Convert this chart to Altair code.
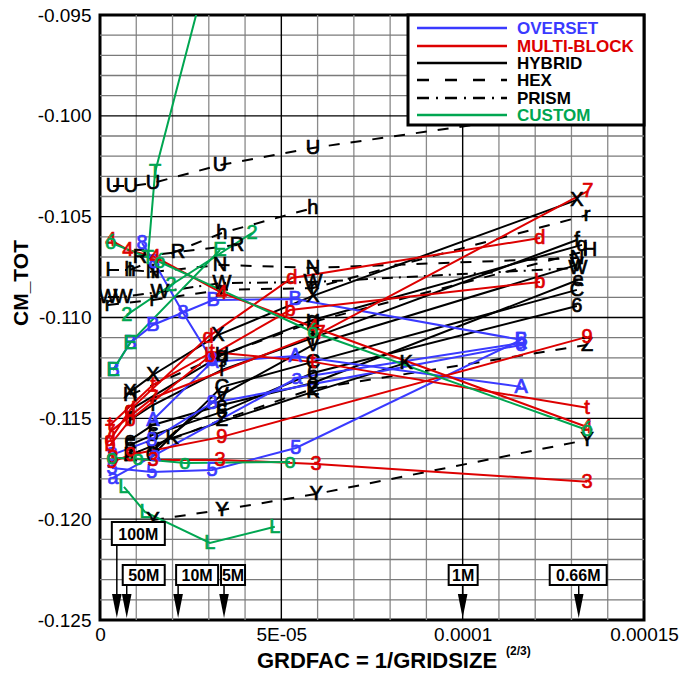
import altair as alt
import pandas as pd

# ---------------- data: GRDFAC (x) vs CM_TOT (y) ----------------
# OVERSET (blue)
ov_B_x = [0.36e-5, 0.83e-5, 1.46e-5, 3.12e-5, 5.38e-5, 11.61e-5]
ov_B_y = [-0.11260, -0.11126, -0.11037, -0.10913, -0.10908, -0.11111]
ov_8_x = [1.16e-5, 1.49e-5, 2.29e-5, 3.09e-5]
ov_8_y = [-0.10630, -0.10725, -0.10977, -0.11210]
ov_A_x = [1.46e-5, 3.09e-5, 5.38e-5, 11.61e-5]
ov_A_y = [-0.11508, -0.11220, -0.11191, -0.11344]
ov_5_x = [0.33e-5, 1.43e-5, 3.09e-5, 5.40e-5, 11.61e-5]
ov_5_y = [-0.11746, -0.11766, -0.11756, -0.11647, -0.11111]
ov_a_x = [0.36e-5, 1.52e-5, 5.43e-5, 11.61e-5]
ov_a_y = [-0.11795, -0.11681, -0.11300, -0.11126]
ov_s_x = [0.33e-5, 1.43e-5, 3.09e-5, 11.61e-5]
ov_s_y = [-0.11681, -0.11607, -0.11424, -0.11136]

# MULTI-BLOCK (red)
mb_7_x = [0.28e-5, 1.46e-5, 6.07e-5, 13.45e-5]
mb_7_y = [-0.11567, -0.11399, -0.11077, -0.10373]
mb_d_x = [0.28e-5, 0.83e-5, 2.98e-5, 5.29e-5, 12.13e-5]
mb_d_y = [-0.11607, -0.11458, -0.11096, -0.10804, -0.10606]
mb_b_x = [0.28e-5, 0.83e-5, 3.03e-5, 5.24e-5, 12.13e-5]
mb_b_y = [-0.11632, -0.11508, -0.11191, -0.10963, -0.10824]
mb_9_x = [0.33e-5, 0.85e-5, 3.36e-5, 13.43e-5]
mb_9_y = [-0.11716, -0.11681, -0.11592, -0.11096]
mb_t_x = [0.28e-5, 1.46e-5, 3.09e-5, 5.87e-5, 13.43e-5]
mb_t_y = [-0.11533, -0.11334, -0.11171, -0.11220, -0.11448]
mb_4_x = [0.30e-5, 0.77e-5, 1.52e-5, 3.36e-5, 5.87e-5, 13.43e-5]
mb_4_y = [-0.10616, -0.10665, -0.10700, -0.10878, -0.11047, -0.11543]
mb_3_x = [0.36e-5, 1.46e-5, 3.31e-5, 5.96e-5, 13.43e-5]
mb_3_y = [-0.11696, -0.11706, -0.11706, -0.11726, -0.11815]

# HYBRID (black solid)
hy_X_x = [0.83e-5, 1.46e-5, 3.25e-5, 5.87e-5, 13.15e-5]
hy_X_y = [-0.11369, -0.11285, -0.11087, -0.10893, -0.10417]
hy_f_x = [0.83e-5, 1.46e-5, 3.36e-5, 5.87e-5, 13.15e-5]
hy_f_y = [-0.11508, -0.11434, -0.11260, -0.11101, -0.10616]
hy_e_x = [0.83e-5, 1.46e-5, 3.36e-5, 5.87e-5, 13.18e-5]
hy_e_y = [-0.11607, -0.11533, -0.11434, -0.11325, -0.10814]
hy_6_x = [0.83e-5, 1.46e-5, 3.36e-5, 5.87e-5, 13.15e-5]
hy_6_y = [-0.11632, -0.11582, -0.11468, -0.11275, -0.10943]
hy_q_x = [0.83e-5, 3.36e-5, 5.87e-5, 13.29e-5]
hy_q_y = [-0.11458, -0.11186, -0.11012, -0.10640]
hy_K_x = [0.83e-5, 1.99e-5, 5.87e-5, 8.44e-5]
hy_K_y = [-0.11681, -0.11597, -0.11369, -0.11225]
hy_V_x = [1.46e-5, 3.36e-5, 5.87e-5, 13.15e-5]
hy_V_y = [-0.11657, -0.11384, -0.11136, -0.10739]
hy_C_x = [1.46e-5, 3.36e-5, 5.87e-5, 13.15e-5]
hy_C_y = [-0.11681, -0.11344, -0.11220, -0.10863]

# HEX (black dashed)
hx_U_x = [0.36e-5, 0.85e-5, 1.46e-5, 3.31e-5, 5.87e-5, 11.61e-5]
hx_U_y = [-0.10348, -0.10348, -0.10333, -0.10244, -0.10159, -0.10011]
hx_h_x = [0.83e-5, 3.36e-5, 5.87e-5]
hx_h_y = [-0.10764, -0.10581, -0.10457]
hx_r_x = [0.22e-5, 1.46e-5, 3.36e-5, 5.87e-5, 13.43e-5]
hx_r_y = [-0.10938, -0.10913, -0.10863, -0.10854, -0.10492]
hx_N_x = [1.46e-5, 3.31e-5, 5.87e-5, 13.15e-5]
hx_N_y = [-0.10774, -0.10739, -0.10754, -0.10705]
hx_Y_x = [1.46e-5, 3.36e-5, 5.96e-5, 13.43e-5]
hx_Y_y = [-0.12004, -0.11954, -0.11875, -0.11607]
hx_Z_x = [0.83e-5, 3.36e-5, 5.87e-5, 13.43e-5]
hx_Z_y = [-0.11681, -0.11508, -0.11354, -0.11136]
hx_H_x = [0.83e-5, 3.36e-5, 5.87e-5, 13.51e-5]
hx_H_y = [-0.11384, -0.11186, -0.11022, -0.10665]
hx_R_x = [1.10e-5, 2.15e-5, 3.78e-5]
hx_R_y = [-0.10700, -0.10675, -0.10640]

# PRISM (black dash-dot)
pr_W_x = [0.22e-5, 0.63e-5, 1.65e-5, 3.36e-5, 5.87e-5, 13.18e-5]
pr_W_y = [-0.10898, -0.10898, -0.10873, -0.10829, -0.10824, -0.10754]
pr_I_x = [0.22e-5, 0.83e-5, 1.46e-5]
pr_I_y = [-0.10764, -0.10764, -0.10774]

# CUSTOM (green)
cu_T_x = [1.32e-5, 1.52e-5, 3.01e-5]
cu_T_y = [-0.10705, -0.10278, -0.09252]
cu_2_x = [0.74e-5, 1.96e-5, 4.19e-5]
cu_2_y = [-0.10987, -0.10839, -0.10581]
cu_E_x = [0.36e-5, 0.83e-5, 3.31e-5]
cu_E_y = [-0.11260, -0.11126, -0.10665]
cu_o1_x = [0.30e-5, 1.65e-5, 5.87e-5, 13.43e-5]
cu_o1_y = [-0.10630, -0.10725, -0.11072, -0.11558]
cu_o_x = [0.33e-5, 1.05e-5, 2.34e-5, 5.24e-5]
cu_o_y = [-0.11696, -0.11701, -0.11721, -0.11716]
cu_L_x = [0.66e-5, 1.24e-5, 3.03e-5, 4.82e-5]
cu_L_y = [-0.11840, -0.11964, -0.12118, -0.12038]

SERIES = [
    ("OVERSET", "B", ov_B_x, ov_B_y), ("OVERSET", "8", ov_8_x, ov_8_y),
    ("OVERSET", "A", ov_A_x, ov_A_y), ("OVERSET", "5", ov_5_x, ov_5_y),
    ("OVERSET", "a", ov_a_x, ov_a_y), ("OVERSET", "8", ov_s_x, ov_s_y),
    ("MULTI-BLOCK", "7", mb_7_x, mb_7_y), ("MULTI-BLOCK", "d", mb_d_x, mb_d_y),
    ("MULTI-BLOCK", "b", mb_b_x, mb_b_y), ("MULTI-BLOCK", "9", mb_9_x, mb_9_y),
    ("MULTI-BLOCK", "t", mb_t_x, mb_t_y), ("MULTI-BLOCK", "4", mb_4_x, mb_4_y),
    ("MULTI-BLOCK", "3", mb_3_x, mb_3_y),
    ("HYBRID", "X", hy_X_x, hy_X_y), ("HYBRID", "f", hy_f_x, hy_f_y),
    ("HYBRID", "e", hy_e_x, hy_e_y), ("HYBRID", "6", hy_6_x, hy_6_y),
    ("HYBRID", "q", hy_q_x, hy_q_y), ("HYBRID", "K", hy_K_x, hy_K_y),
    ("HYBRID", "V", hy_V_x, hy_V_y), ("HYBRID", "C", hy_C_x, hy_C_y),
    ("HEX", "U", hx_U_x, hx_U_y), ("HEX", "h", hx_h_x, hx_h_y),
    ("HEX", "r", hx_r_x, hx_r_y), ("HEX", "N", hx_N_x, hx_N_y),
    ("HEX", "Y", hx_Y_x, hx_Y_y), ("HEX", "Z", hx_Z_x, hx_Z_y),
    ("HEX", "H", hx_H_x, hx_H_y), ("HEX", "R", hx_R_x, hx_R_y),
    ("PRISM", "W", pr_W_x, pr_W_y), ("PRISM", "I", pr_I_x, pr_I_y),
    ("CUSTOM", "T", cu_T_x, cu_T_y), ("CUSTOM", "2", cu_2_x, cu_2_y),
    ("CUSTOM", "E", cu_E_x, cu_E_y), ("CUSTOM", "ó", cu_o1_x, cu_o1_y),
    ("CUSTOM", "o", cu_o_x, cu_o_y), ("CUSTOM", "L", cu_L_x, cu_L_y),
]

# grid-size annotations
grid_labels = ["100M", "50M", "10M", "5M", "1M", "0.66M"]
grid_x = [0.464e-5, 0.737e-5, 2.154e-5, 3.42e-5, 10.0e-5, 13.2e-5]

# axis ticks / grid
x_ticks = [0, 5e-5, 10e-5, 15e-5]
y_ticks = [-0.125, -0.120, -0.115, -0.110, -0.105, -0.100, -0.095]
x_minor = [1e-5, 2e-5, 3e-5, 4e-5, 6e-5, 7e-5, 8e-5, 9e-5, 11e-5, 12e-5, 13e-5, 14e-5]
x_major = [5e-5, 10e-5]
y_minor = [-0.124, -0.123, -0.122, -0.121, -0.119, -0.118, -0.117, -0.116,
           -0.114, -0.113, -0.112, -0.111, -0.109, -0.108, -0.107, -0.106,
           -0.104, -0.103, -0.102, -0.101, -0.099, -0.098, -0.097, -0.096]
y_major = [-0.120, -0.115, -0.110, -0.105, -0.100]

# ---------------- build tables ----------------
rows = []
for sid, (grp, mk, xs_, ys_) in enumerate(SERIES):
    for i, (xv, yv) in enumerate(zip(xs_, ys_)):
        rows.append({"series": f"{grp}-{mk}-{sid}", "group": grp, "marker": mk,
                     "idx": i, "x": xv, "y": yv})
df = pd.DataFrame(rows)

STYLE = {
    "OVERSET": ("#3a3aff", None),
    "MULTI-BLOCK": ("#dd0000", None),
    "HYBRID": ("#000000", None),
    "HEX": ("#000000", [11, 11]),
    "PRISM": ("#000000", [11, 6, 2, 6]),
    "CUSTOM": ("#00a651", None),
}
FONT = "Liberation Sans"
W, H = 544, 605
xsc = alt.Scale(domain=[0, 0.00015], nice=False, zero=False)
ysc = alt.Scale(domain=[-0.125, -0.095], nice=False, zero=False)

x_axis = alt.Axis(values=x_ticks, title=None, domain=False, ticks=False, grid=False,
                  labelFont=FONT, labelFontSize=19, labelColor="black", labelPadding=5,
                  labelFlush=False, labelOverlap=False,
                  labelExpr="datum.value == 0 ? '0' : (datum.value < 0.00006 ? '5E-05' : (datum.value < 0.00011 ? '0.0001' : '0.00015'))")
y_axis = alt.Axis(values=y_ticks, title=None, domain=False, ticks=False, grid=False,
                  labelFont=FONT, labelFontSize=19, labelColor="black", labelPadding=9,
                  labelExpr="'-' + format(abs(datum.value), '.3f')")


def X():
    return alt.X("x:Q", scale=xsc, axis=x_axis, title=None)


def Y():
    return alt.Y("y:Q", scale=ysc, axis=y_axis, title=None)


layers = []
# grid
layers.append(alt.Chart(pd.DataFrame({"x": x_minor}))
              .mark_rule(color="#8a8a8a", strokeWidth=1.3).encode(x=X()))
layers.append(alt.Chart(pd.DataFrame({"y": y_minor})).mark_rule(color="#7a7a7a", strokeWidth=1.3)
              .encode(y=Y()))
layers.append(alt.Chart(pd.DataFrame({"x": x_major})).mark_rule(color="#000000", strokeWidth=1.4)
              .encode(x=X()))
layers.append(alt.Chart(pd.DataFrame({"y": y_major})).mark_rule(color="#000000", strokeWidth=1.4)
              .encode(y=Y()))

# lines
order = ["HEX", "PRISM", "HYBRID", "OVERSET", "MULTI-BLOCK", "CUSTOM"]
for grp in order:
    color, dash = STYLE[grp]
    kw = dict(color=color, strokeWidth=2, clip=True)
    if dash:
        kw["strokeDash"] = dash
    layers.append(alt.Chart(df[df.group == grp]).mark_line(**kw)
                  .encode(x=X(), y=Y(), detail="series:N", order="idx:Q"))

# letter symbols (only those inside the plotted range)
for grp in order:
    color, _ = STYLE[grp]
    layers.append(alt.Chart(df[df.group == grp]).transform_filter("datum.y <= -0.095").mark_text(
        color=color, fill=color, stroke=color, strokeWidth=0.7, font=FONT, fontSize=20,
        clip=True, baseline="middle", align="center")
        .encode(x=X(), y=Y(), text="marker:N"))

# legend box
one = pd.DataFrame({"k": [0]})
layers.append(alt.Chart(one).mark_rect(fill="white", stroke="black", strokeWidth=3)
              .encode(x=alt.value(308), x2=alt.value(544), y=alt.value(0), y2=alt.value(110)))
legend_rows = [("OVERSET", 13), ("MULTI-BLOCK", 31), ("HYBRID", 48),
               ("HEX", 65), ("PRISM", 83), ("CUSTOM", 100)]
for name, yy in legend_rows:
    color, dash = STYLE[name]
    kw = dict(color=color, strokeWidth=2.5)
    if dash:
        kw["strokeDash"] = [12, 16] if name == "HEX" else [12, 7, 2, 7]
    layers.append(alt.Chart(pd.DataFrame({"k": [name]})).mark_rule(**kw)
                  .encode(x=alt.value(317), x2=alt.value(407), y=alt.value(yy)))
    layers.append(alt.Chart(pd.DataFrame({"k": [name]})).mark_text(
        color=color, font=FONT, fontSize=17, fontWeight="bold", align="left", baseline="middle")
        .encode(x=alt.value(417), y=alt.value(yy + 1), text="k:N"))

# grid size annotations
ann = pd.DataFrame({"label": grid_labels, "x": grid_x})
box_layout = {  # label: (left offset, right offset, top, bottom) in px
    "100M": (-5, 48, 507, 530), "50M": (-4, 38, 550, 570), "10M": (-2, 40, 550, 570),
    "5M": (-3, 21, 550, 570), "1M": (-14, 15, 550, 570), "0.66M": (-29, 28, 550, 570),
}
for lab, (l, r, t, b) in box_layout.items():
    sub = ann[ann.label == lab]
    layers.append(alt.Chart(sub).mark_rule(color="black", strokeWidth=1.5)
                  .encode(x=X(), y=alt.value(b), y2=alt.value(585)))
    layers.append(alt.Chart(sub).mark_point(
        shape="M-0.4,-1L0.4,-1L0,1Z", size=576, filled=True, color="black", opacity=1, strokeWidth=0)
        .encode(x=X(), y=alt.value(591)))
    layers.append(alt.Chart(sub).mark_rect(fill="white", stroke="black", strokeWidth=2,
                                           xOffset=l, x2Offset=r)
                  .encode(x=X(), x2="x:Q", y=alt.value(t), y2=alt.value(b)))
    layers.append(alt.Chart(sub).mark_text(font=FONT, fontSize=16, fontWeight="bold",
                                           color="black", align="center", baseline="middle",
                                           dx=(l + r) / 2)
                  .encode(x=X(), y=alt.value((t + b) / 2 + 1), text="label:N"))

# axis titles
layers.append(alt.Chart(pd.DataFrame({"t": ["CM_TOT"]})).mark_text(
    font=FONT, fontSize=21, fontWeight="bold", angle=270, align="center", baseline="middle")
    .encode(x=alt.value(-78), y=alt.value(268), text="t:N"))
layers.append(alt.Chart(pd.DataFrame({"t": ["GRDFAC = 1/GRIDSIZE"]})).mark_text(
    font=FONT, fontSize=22, fontWeight="bold", align="center", baseline="middle")
    .encode(x=alt.value(277), y=alt.value(646), text="t:N"))
layers.append(alt.Chart(pd.DataFrame({"t": ["(2/3)"]})).mark_text(
    font=FONT, fontSize=12, fontWeight="bold", align="left", baseline="middle")
    .encode(x=alt.value(406), y=alt.value(636), text="t:N"))

chart = alt.layer(*layers).properties(
    width=W, height=H,
    autosize=alt.AutoSizeParams(type="none"),
    padding={"left": 100, "top": 15, "right": 51, "bottom": 53},
    background="white",
).configure_view(stroke="black", strokeWidth=3)

chart.save("out.html", embed_options={"renderer": "svg", "actions": False})
